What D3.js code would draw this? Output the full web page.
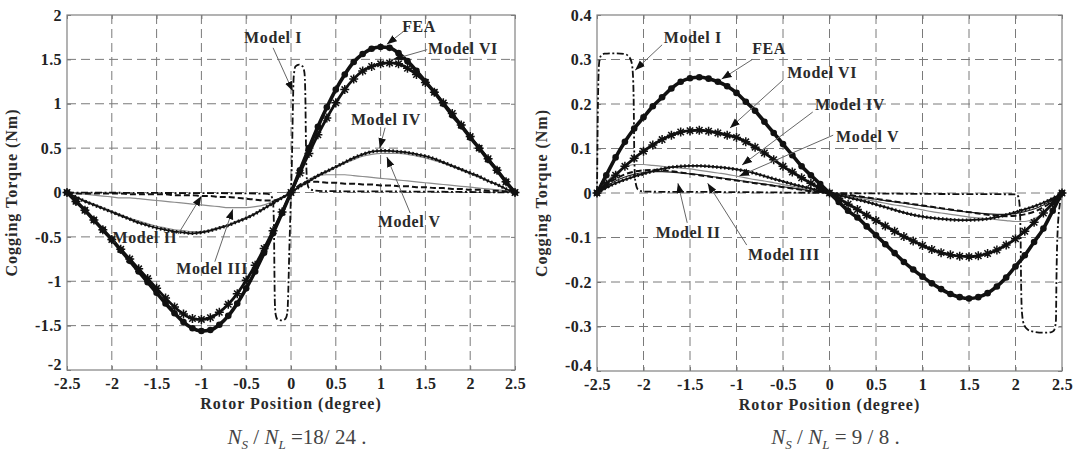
<!DOCTYPE html>
<html>
<head>
<meta charset="utf-8">
<script src="https://cdn.jsdelivr.net/npm/d3@7"></script>
<style>
body { margin: 0; background: #fff; }
svg { display: block; }
.tick text { font-family: "Liberation Serif", "Times New Roman", serif; font-weight: bold; font-size: 16px; fill: #222; letter-spacing: 0.4px; }
.lbl { font-family: "Liberation Serif", "Times New Roman", serif; font-weight: bold; font-size: 16px; fill: #2a2a2a; letter-spacing: 1px; }
.ann { font-family: "Liberation Serif", "Times New Roman", serif; font-weight: bold; font-size: 16px; fill: #2a2a2a; letter-spacing: 0.6px; }
.cap { font-family: "Liberation Serif", "Times New Roman", serif; font-size: 21px; fill: #444; }
</style>
</head>
<body>
<svg width="1076" height="454"></svg>
<script>
// rotor position samples (degree), shared by the smooth curves
var XS = [-2.5,-2.4,-2.3,-2.2,-2.1,-2.0,-1.9,-1.8,-1.7,-1.6,-1.5,-1.4,-1.3,-1.2,-1.1,-1.0,-0.9,-0.8,-0.7,-0.6,-0.5,-0.4,-0.3,-0.2,-0.1,
	0,0.1,0.2,0.3,0.4,0.5,0.6,0.7,0.8,0.9,1.0,1.1,1.2,1.3,1.4,1.5,1.6,1.7,1.8,1.9,2.0,2.1,2.2,2.3,2.4,2.5];
var xTicks = [-2.5,-2,-1.5,-1,-0.5,0,0.5,1,1.5,2,2.5];

// ---- Ns/NL = 18/24 ----
var yTicksL = [-2,-1.5,-1,-0.5,0,0.5,1,1.5,2];
var feaL = [0,-0.10,-0.20,-0.31,-0.42,-0.53,-0.65,-0.77,-0.89,-1.01,-1.13,-1.25,-1.36,-1.46,-1.53,-1.56,-1.55,-1.49,-1.39,-1.25,-1.08,-0.89,-0.68,-0.46,-0.23,
	0,0.25,0.50,0.74,0.96,1.16,1.33,1.47,1.56,1.62,1.64,1.63,1.57,1.48,1.37,1.25,1.13,1.00,0.87,0.75,0.62,0.50,0.37,0.25,0.12,0];
var m6L = [0,-0.10,-0.20,-0.31,-0.42,-0.53,-0.64,-0.75,-0.86,-0.97,-1.08,-1.19,-1.29,-1.37,-1.42,-1.43,-1.41,-1.35,-1.26,-1.14,-0.99,-0.82,-0.63,-0.43,-0.22,
	0,0.22,0.44,0.65,0.84,1.01,1.16,1.28,1.37,1.42,1.45,1.46,1.45,1.40,1.33,1.24,1.13,1.01,0.89,0.76,0.63,0.50,0.38,0.25,0.12,0];
var m4L = [0,-0.05,-0.10,-0.14,-0.18,-0.22,-0.26,-0.30,-0.34,-0.37,-0.40,-0.42,-0.44,-0.45,-0.46,-0.45,-0.43,-0.40,-0.37,-0.33,-0.29,-0.24,-0.18,-0.12,-0.06,
	0,0.07,0.13,0.19,0.24,0.29,0.34,0.39,0.43,0.46,0.47,0.47,0.46,0.45,0.43,0.41,0.38,0.34,0.30,0.26,0.22,0.18,0.13,0.09,0.04,0];
var m5L = [0,-0.05,-0.09,-0.13,-0.17,-0.21,-0.25,-0.29,-0.32,-0.35,-0.38,-0.40,-0.42,-0.43,-0.44,-0.44,-0.42,-0.39,-0.36,-0.32,-0.28,-0.23,-0.18,-0.12,-0.06,
	0,0.06,0.12,0.18,0.23,0.28,0.33,0.37,0.41,0.43,0.44,0.44,0.44,0.43,0.41,0.39,0.36,0.33,0.29,0.25,0.21,0.17,0.13,0.09,0.04,0];
var m3L = [0,-0.01,-0.02,-0.03,-0.04,-0.05,-0.06,-0.06,-0.07,-0.08,-0.09,-0.10,-0.11,-0.12,-0.13,-0.14,-0.15,-0.16,-0.17,-0.17,-0.17,-0.16,-0.14,-0.10,-0.05,
	0,0.08,0.15,0.19,0.20,0.20,0.20,0.19,0.18,0.17,0.16,0.15,0.14,0.13,0.12,0.11,0.10,0.09,0.08,0.07,0.06,0.05,0.04,0.03,0.02,0];
var m2L = [0,-0.01,-0.01,-0.01,-0.01,-0.01,-0.01,-0.02,-0.02,-0.02,-0.02,-0.02,-0.03,-0.03,-0.03,-0.04,-0.04,-0.05,-0.05,-0.06,-0.07,-0.08,-0.09,-0.09,-0.06,
	0,0.09,0.12,0.12,0.11,0.11,0.10,0.10,0.09,0.09,0.08,0.08,0.07,0.07,0.06,0.06,0.05,0.05,0.04,0.04,0.03,0.03,0.02,0.02,0.01,0];
var m1L_x = [-2.5,-1.5,-0.5,-0.26,-0.22,-0.2,-0.19,-0.185,-0.18,-0.17,-0.15,-0.1,-0.06,-0.04,-0.03,-0.02,-0.01,0,0.01,0.02,0.03,0.05,0.09,0.13,0.15,0.16,0.165,0.17,0.18,0.2,0.25,0.4,1.5,2.5];
var m1L_y = [0,-0.005,-0.01,-0.015,-0.04,-0.12,-0.4,-0.9,-1.25,-1.38,-1.43,-1.44,-1.42,-1.35,-1.1,-0.7,-0.35,0,0.35,0.9,1.3,1.42,1.44,1.42,1.35,1.1,0.7,0.35,0.12,0.05,0.025,0.015,0.01,0];

// ---- Ns/NL = 9/8 ----
var yTicksR = [-0.4,-0.3,-0.2,-0.1,0,0.1,0.2,0.3,0.4];
var feaR = [0,0.04,0.08,0.115,0.145,0.17,0.195,0.215,0.235,0.25,0.258,0.26,0.257,0.25,0.24,0.225,0.205,0.185,0.16,0.135,0.11,0.085,0.06,0.04,0.02,
	0,-0.02,-0.04,-0.055,-0.075,-0.095,-0.115,-0.135,-0.155,-0.172,-0.188,-0.203,-0.216,-0.227,-0.234,-0.237,-0.234,-0.225,-0.21,-0.19,-0.165,-0.14,-0.11,-0.08,-0.04,0];
var m6R = [0,0.02,0.04,0.06,0.078,0.094,0.108,0.12,0.13,0.137,0.14,0.141,0.139,0.135,0.13,0.125,0.115,0.103,0.09,0.075,0.06,0.047,0.034,0.022,0.01,
	0,-0.012,-0.025,-0.037,-0.05,-0.062,-0.074,-0.086,-0.098,-0.108,-0.118,-0.127,-0.134,-0.139,-0.142,-0.143,-0.141,-0.136,-0.128,-0.117,-0.103,-0.086,-0.066,-0.045,-0.023,0];
var m4R = [0,0.012,0.022,0.03,0.037,0.043,0.049,0.054,0.058,0.06,0.061,0.061,0.06,0.058,0.056,0.053,0.049,0.044,0.038,0.032,0.026,0.02,0.015,0.01,0.005,
	0,-0.005,-0.01,-0.015,-0.02,-0.026,-0.032,-0.038,-0.044,-0.049,-0.053,-0.056,-0.058,-0.06,-0.061,-0.061,-0.06,-0.058,-0.054,-0.049,-0.043,-0.037,-0.03,-0.022,-0.012,0];
var m5R = [0,0.025,0.045,0.058,0.064,0.064,0.062,0.06,0.058,0.056,0.054,0.051,0.048,0.045,0.042,0.038,0.034,0.03,0.027,0.023,0.019,0.015,0.011,0.008,0.004,
	0,-0.004,-0.008,-0.011,-0.015,-0.019,-0.023,-0.027,-0.03,-0.034,-0.038,-0.042,-0.045,-0.048,-0.051,-0.054,-0.056,-0.058,-0.06,-0.062,-0.064,-0.064,-0.058,-0.045,-0.025,0];
var m3R = [0,0.015,0.027,0.036,0.042,0.046,0.048,0.048,0.047,0.045,0.043,0.041,0.038,0.035,0.032,0.029,0.026,0.023,0.02,0.017,0.014,0.011,0.008,0.005,0.002,
	0,-0.002,-0.005,-0.008,-0.011,-0.014,-0.017,-0.02,-0.023,-0.026,-0.029,-0.032,-0.035,-0.038,-0.041,-0.043,-0.045,-0.047,-0.048,-0.048,-0.046,-0.042,-0.036,-0.027,-0.015,0];
var m2R = [0,0.018,0.032,0.042,0.048,0.051,0.052,0.051,0.049,0.046,0.043,0.04,0.037,0.034,0.031,0.028,0.025,0.022,0.019,0.016,0.013,0.01,0.007,0.004,0.002,
	0,-0.002,-0.004,-0.007,-0.01,-0.013,-0.016,-0.019,-0.022,-0.025,-0.028,-0.031,-0.034,-0.037,-0.04,-0.043,-0.046,-0.049,-0.051,-0.052,-0.051,-0.048,-0.042,-0.032,-0.018,0];
var m1R_x = [-2.5,-2.49,-2.48,-2.47,-2.45,-2.42,-2.3,-2.2,-2.16,-2.13,-2.115,-2.105,-2.1,-2.09,-2.06,-2.0,-1.0,0,1.0,2.0,2.03,2.045,2.055,2.06,2.07,2.09,2.13,2.2,2.3,2.38,2.41,2.425,2.435,2.44,2.45,2.48,2.5];
var m1R_y = [0,0.2,0.285,0.302,0.31,0.313,0.314,0.312,0.307,0.295,0.27,0.2,0.1,0.03,0.008,0.003,0.002,0,-0.002,-0.003,-0.008,-0.03,-0.1,-0.2,-0.27,-0.295,-0.307,-0.312,-0.314,-0.313,-0.31,-0.302,-0.285,-0.2,-0.1,-0.02,0];

function zip(xs, ys) { return xs.map(function(x, i){ return [x, ys[i]]; }); }

var svg = d3.select("svg");
var defs = svg.append("defs");
defs.append("marker")
	.attr("id", "arr")
	.attr("viewBox", "0 0 10 10")
	.attr("refX", 10).attr("refY", 5)
	.attr("markerWidth", 10).attr("markerHeight", 10)
	.attr("markerUnits", "userSpaceOnUse")
	.attr("orient", "auto")
	.append("path").attr("d", "M0,1.2L10,5L0,8.8z").attr("fill", "#111");

function panel(p) {
	var x = d3.scaleLinear().domain([-2.5, 2.5]).range([p.left, p.right]);
	var y = d3.scaleLinear().domain(p.yDomain).range([p.bottom, p.top]);
	var g = svg.append("g");
	var W = p.right - p.left, H = p.bottom - p.top;

	// dashed grid
	g.append("g").selectAll("line").data(xTicks.slice(1, -1)).enter().append("line")
		.attr("x1", function(d){ return x(d); }).attr("x2", function(d){ return x(d); })
		.attr("y1", p.top).attr("y2", p.bottom)
		.attr("stroke", "#7a7a7a").attr("stroke-dasharray", "9,5").attr("stroke-width", 1);
	g.append("g").selectAll("line").data(p.yTicks.slice(1, -1)).enter().append("line")
		.attr("y1", function(d){ return y(d); }).attr("y2", function(d){ return y(d); })
		.attr("x1", p.left).attr("x2", p.right)
		.attr("stroke", "#7a7a7a").attr("stroke-dasharray", "9,5").attr("stroke-width", 1);

	// axes, ticks pointing inwards
	var fmt = function(d){ return String(d); };
	var ax = [
		g.append("g").attr("transform", "translate(0," + p.bottom + ")")
			.call(d3.axisBottom(x).tickValues(xTicks).tickSize(-4).tickPadding(8).tickFormat(fmt)),
		g.append("g").attr("transform", "translate(0," + p.top + ")")
			.call(d3.axisTop(x).tickValues(xTicks).tickSize(-4).tickFormat("")),
		g.append("g").attr("transform", "translate(" + p.left + ",0)")
			.call(d3.axisLeft(y).tickValues(p.yTicks).tickSize(-4).tickPadding(5).tickFormat(fmt)),
		g.append("g").attr("transform", "translate(" + p.right + ",0)")
			.call(d3.axisRight(y).tickValues(p.yTicks).tickSize(-4).tickFormat(""))
	];
	ax.forEach(function(a){
		a.select(".domain").remove();
		a.selectAll(".tick line").attr("stroke", "#777");
	});
	// lowest y label sits just above the first x label
	ax[2].selectAll(".tick text").filter(function(d){ return d === p.yDomain[0]; }).attr("dy", "-0.05em");
	g.append("rect").attr("x", p.left).attr("y", p.top).attr("width", W).attr("height", H)
		.attr("fill", "none").attr("stroke", "#808080").attr("stroke-width", 1.2);

	var line = d3.line().x(function(d){ return x(d[0]); }).y(function(d){ return y(d[1]); })
		.curve(d3.curveMonotoneX);
	var s = p.series;

	// Model V (thin grey) and Model III
	g.append("path").attr("d", line(zip(XS, s.m5))).attr("fill", "none")
		.attr("stroke", "#8c8c8c").attr("stroke-width", 1.2);
	g.append("path").attr("d", line(zip(XS, s.m3))).attr("fill", "none")
		.attr("stroke", p.m3Color).attr("stroke-width", 1.2);
	// Model II dashed
	g.append("path").attr("d", line(zip(XS, s.m2))).attr("fill", "none")
		.attr("stroke", "#111").attr("stroke-width", 2).attr("stroke-dasharray", "6,3");
	// Model I dash-dot
	g.append("path").attr("d", line(zip(s.m1x, s.m1y))).attr("fill", "none")
		.attr("stroke", "#111").attr("stroke-width", 1.8).attr("stroke-dasharray", "7,2.5,2,2.5");
	// Model IV solid with dots
	g.append("path").attr("d", line(zip(XS, s.m4))).attr("fill", "none")
		.attr("stroke", "#111").attr("stroke-width", 1.8);
	g.append("path").attr("d", line(zip(XS, s.m4))).attr("fill", "none")
		.attr("stroke", "#111").attr("stroke-width", 3.4).attr("stroke-dasharray", "1.6,2.4");
	// Model VI with plus markers
	g.append("path").attr("d", line(zip(XS, s.m6))).attr("fill", "none")
		.attr("stroke", "#111").attr("stroke-width", 2.8);
	g.append("g").selectAll("path").data(zip(XS, s.m6)).enter().append("path")
		.attr("transform", function(d){ return "translate(" + x(d[0]) + "," + y(d[1]) + ")"; })
		.attr("d", "M-4.5,0H4.5M0,-4.5V4.5M-3.2,-3.2L3.2,3.2M-3.2,3.2L3.2,-3.2")
		.attr("stroke", "#111").attr("stroke-width", 1.5);
	// FEA with dot markers
	g.append("path").attr("d", line(zip(XS, s.fea))).attr("fill", "none")
		.attr("stroke", "#111").attr("stroke-width", 3.6);
	g.append("g").selectAll("circle").data(zip(XS, s.fea)).enter().append("circle")
		.attr("cx", function(d){ return x(d[0]); }).attr("cy", function(d){ return y(d[1]); })
		.attr("r", 3.3).attr("fill", "#111");

	// annotations: [label, textX, textY, fromX, fromY, toX, toY]
	p.notes.forEach(function(n){
		g.append("line")
			.attr("x1", x(n[3])).attr("y1", y(n[4])).attr("x2", x(n[5])).attr("y2", y(n[6]))
			.attr("stroke", "#666").attr("stroke-width", 1).attr("marker-end", "url(#arr)");
		g.append("text").attr("class", "ann").attr("text-anchor", "middle")
			.attr("x", x(n[1])).attr("y", y(n[2])).attr("dy", "0.35em").text(n[0]);
	});

	// axis titles and caption
	g.append("text").attr("class", "lbl").attr("text-anchor", "middle")
		.attr("x", (p.left + p.right) / 2).attr("y", p.bottom + 39).text("Rotor Position (degree)");
	g.append("text").attr("class", "lbl").attr("text-anchor", "middle")
		.attr("transform", "translate(" + (p.left - 50) + "," + ((p.top + p.bottom) / 2) + ") rotate(-90)")
		.text("Cogging Torque (Nm)");
	var cap = g.append("text").attr("class", "cap").attr("text-anchor", "middle")
		.attr("x", (p.left + p.right) / 2 + p.capShift).attr("y", 444);
	cap.append("tspan").attr("font-style", "italic").text("N");
	cap.append("tspan").attr("font-style", "italic").attr("font-size", "13px").attr("dy", 5).text("S");
	cap.append("tspan").attr("dy", -5).text(" / ");
	cap.append("tspan").attr("font-style", "italic").text("N");
	cap.append("tspan").attr("font-style", "italic").attr("font-size", "13px").attr("dy", 5).text("L");
	cap.append("tspan").attr("dy", -5).text(p.caption);
}

panel({
	left: 67, right: 515, top: 15, bottom: 370,
	yDomain: [-2, 2], yTicks: yTicksL, m3Color: "#8c8c8c", capShift: 6,
	caption: " =18/ 24 .",
	series: { fea: feaL, m6: m6L, m4: m4L, m5: m5L, m3: m3L, m2: m2L, m1x: m1L_x, m1y: m1L_y },
	notes: [
		["Model I", -0.20, 1.75, -0.20, 1.63, 0.02, 1.14],
		["FEA", 1.43, 1.87, 1.25, 1.81, 1.07, 1.67],
		["Model VI", 1.92, 1.62, 1.52, 1.61, 1.14, 1.50],
		["Model IV", 1.06, 0.82, 1.05, 0.73, 0.99, 0.50],
		["Model V", 1.32, -0.33, 1.33, -0.23, 1.07, 0.40],
		["Model II", -1.63, -0.51, -1.26, -0.47, -1.0, -0.04],
		["Model III", -0.88, -0.85, -0.85, -0.78, -0.65, -0.19]
	]
});

panel({
	left: 597, right: 1062, top: 15, bottom: 371,
	yDomain: [-0.4, 0.4], yTicks: yTicksR, m3Color: "#222", capShift: 6,
	caption: " = 9 / 8 .",
	series: { fea: feaR, m6: m6R, m4: m4R, m5: m5R, m3: m3R, m2: m2R, m1x: m1R_x, m1y: m1R_y },
	notes: [
		["Model I", -1.47, 0.35, -1.80, 0.333, -2.09, 0.276],
		["FEA", -0.65, 0.324, -0.83, 0.30, -1.16, 0.256],
		["Model VI", -0.08, 0.27, -0.50, 0.254, -1.07, 0.146],
		["Model IV", 0.22, 0.198, -0.18, 0.182, -0.94, 0.063],
		["Model V", 0.41, 0.128, 0.04, 0.13, -0.97, 0.038],
		["Model II", -1.52, -0.088, -1.53, -0.067, -1.63, 0.022],
		["Model III", -0.49, -0.139, -0.89, -0.117, -1.31, 0.022]
	]
});
</script>
</body>
</html>
